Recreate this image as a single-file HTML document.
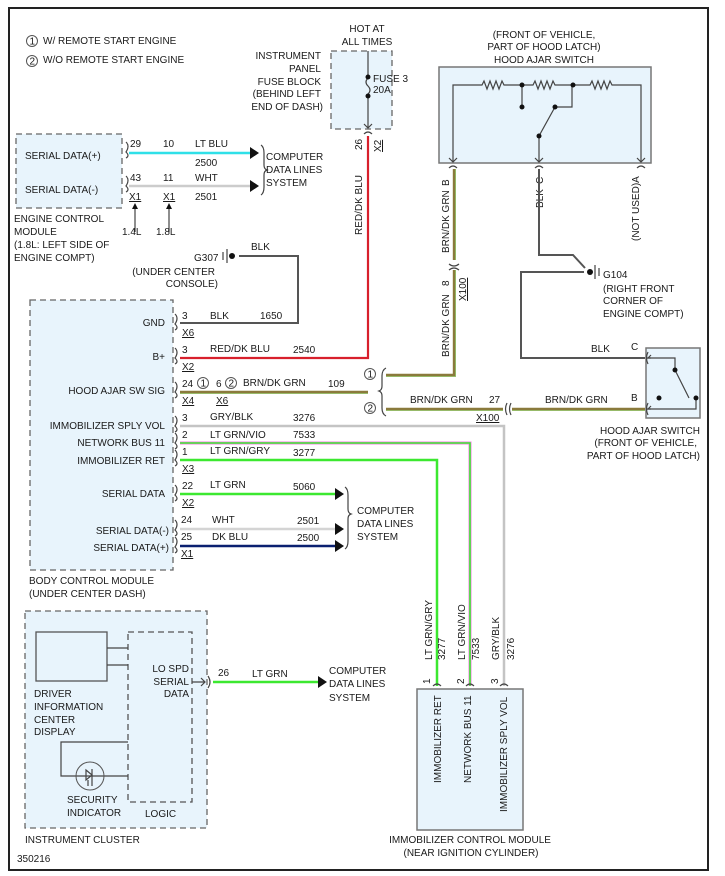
<!DOCTYPE html>
<html><head><meta charset="utf-8"><style>
html,body{margin:0;padding:0;background:#fff}
svg{display:block}
text{font-family:"Liberation Sans",sans-serif;font-size:10px;fill:#1a1a1a}
.dash{fill:#e8f4fc;stroke:#666;stroke-width:1.3;stroke-dasharray:6,4}
.box{fill:#e8f4fc;stroke:#777;stroke-width:1.5}
.ln{fill:none;stroke:#444;stroke-width:1.2}
</style></head><body>
<svg width="725" height="876" viewBox="0 0 725 876" xmlns="http://www.w3.org/2000/svg">
<rect x="9" y="8" width="699" height="862" fill="#fff" stroke="#222" stroke-width="2"/>

<!-- legend -->
<circle cx="32" cy="41" r="5.5" fill="none" stroke="#555"/><text x="29.5" y="44.5" font-size="8">1</text>
<text x="43" y="44">W/ REMOTE START ENGINE</text>
<circle cx="32" cy="61" r="5.5" fill="none" stroke="#555"/><text x="29.5" y="64.5" font-size="8">2</text>
<text x="43" y="63">W/O REMOTE START ENGINE</text>

<!-- fuse block -->
<text x="367" y="32" text-anchor="middle">HOT AT</text>
<text x="367" y="45" text-anchor="middle">ALL TIMES</text>
<g text-anchor="end"><text x="321" y="59">INSTRUMENT</text><text x="321" y="72">PANEL</text><text x="321" y="85">FUSE BLOCK</text><text x="321" y="97">(BEHIND LEFT</text><text x="323" y="110">END OF DASH)</text></g>
<rect x="331" y="51" width="61" height="78" class="dash"/>
<path d="M368 51V76 M368 96V128" class="ln"/>
<path d="M368 78 q-4 4 0 8 q4 4 0 8" class="ln"/>
<circle cx="368" cy="77" r="2.5" fill="#111"/><circle cx="368" cy="96" r="2.5" fill="#111"/>
<text x="373" y="82">FUSE 3</text><text x="373" y="93">20A</text>
<path d="M364 124l4 4 4-4 M364 134q4 -4 8 0" class="ln"/>
<text transform="translate(362,150) rotate(-90)">26</text>
<text transform="translate(381,152) rotate(-90)" text-decoration="underline">X2</text>
<text transform="translate(362,235) rotate(-90)">RED/DK BLU</text>
<path d="M368 136V358H180" fill="none" stroke="#d8202c" stroke-width="2.2"/>

<!-- ECM -->
<rect x="16" y="134" width="106" height="74" class="dash"/>
<text x="25" y="159">SERIAL DATA(+)</text><text x="25" y="193">SERIAL DATA(-)</text>
<path d="M126 142q4 4 0 10q4 4 0 6 M126 176q4 4 0 10q4 4 0 6" class="ln"/>
<path d="M129 153H250" stroke="#2fe0e8" stroke-width="2.5"/>
<path d="M129 186H250" stroke="#ccc" stroke-width="2.5"/>
<path d="M250 147l9 6-9 6z M250 180l9 6-9 6z" fill="#111"/>
<text x="130" y="147">29</text><text x="163" y="147">10</text><text x="195" y="147">LT BLU</text><text x="195" y="166">2500</text>
<text x="130" y="181">43</text><text x="163" y="181">11</text><text x="195" y="181">WHT</text><text x="195" y="200">2501</text>
<text x="129" y="200" text-decoration="underline">X1</text><text x="163" y="200" text-decoration="underline">X1</text>
<path d="M135 232V207 M169 232V207" class="ln"/><path d="M132 209l3-6 3 6z M166 209l3-6 3 6z" fill="#111"/>
<text x="122" y="235">1.4L</text><text x="156" y="235">1.8L</text>
<path d="M261 145q3 2 3 8v12q0 4 3 5q-3 1-3 5v12q0 6-3 8" class="ln"/>
<text x="266" y="160">COMPUTER</text><text x="266" y="173">DATA LINES</text><text x="266" y="186">SYSTEM</text>
<text x="14" y="222">ENGINE CONTROL</text><text x="14" y="235">MODULE</text><text x="14" y="248">(1.8L: LEFT SIDE OF</text><text x="14" y="261">ENGINE COMPT)</text>

<!-- G307 -->
<text x="194" y="261">G307</text>
<path d="M223 252v8 M227 249v14" class="ln"/><circle cx="232" cy="256" r="3" fill="#111"/>
<text x="251" y="250">BLK</text>
<path d="M239 256H298V323H180" fill="none" stroke="#555" stroke-width="2"/>
<text x="215" y="275" text-anchor="end">(UNDER CENTER</text><text x="218" y="287" text-anchor="end">CONSOLE)</text>

<!-- BCM -->
<rect x="30" y="300" width="143" height="270" class="dash"/>
<g text-anchor="end"><text x="165" y="326">GND</text><text x="165" y="360">B+</text><text x="165" y="394">HOOD AJAR SW SIG</text><text x="165" y="429">IMMOBILIZER SPLY VOL</text><text x="165" y="446">NETWORK BUS 11</text><text x="165" y="464">IMMOBILIZER RET</text><text x="165" y="497">SERIAL DATA</text><text x="169" y="534">SERIAL DATA(-)</text><text x="169" y="551">SERIAL DATA(+)</text></g>
<path d="M175 314q4 4 0 10q4 4 0 6 M175 348q4 4 0 10q4 4 0 6 M175 382q4 4 0 10q4 4 0 6 M175 416q4 4 0 10q4 4 0 6 M175 433q4 4 0 10q4 4 0 6 M175 450q4 4 0 10q4 4 0 6 M175 485q4 4 0 10q4 4 0 6 M175 520q4 4 0 10q4 4 0 6 M175 537q4 4 0 10q4 4 0 6" class="ln"/>
<g>
<text x="182" y="319">3</text><text x="210" y="319">BLK</text><text x="260" y="319">1650</text><text x="182" y="336" text-decoration="underline">X6</text>
<text x="182" y="353">3</text><text x="210" y="352">RED/DK BLU</text><text x="293" y="353">2540</text><text x="182" y="370" text-decoration="underline">X2</text>
<text x="182" y="387">24</text><text x="216" y="387">6</text><text x="243" y="386">BRN/DK GRN</text><text x="328" y="387">109</text>
<circle cx="203" cy="383" r="5.5" fill="none" stroke="#555"/><text x="200.5" y="386.5" font-size="8">1</text>
<circle cx="231" cy="383" r="5.5" fill="none" stroke="#555"/><text x="228.5" y="386.5" font-size="8">2</text>
<text x="182" y="404" text-decoration="underline">X4</text><text x="216" y="404" text-decoration="underline">X6</text>
<text x="182" y="421">3</text><text x="210" y="420">GRY/BLK</text><text x="293" y="421">3276</text>
<text x="182" y="438">2</text><text x="210" y="438">LT GRN/VIO</text><text x="293" y="438">7533</text>
<text x="182" y="455">1</text><text x="210" y="454">LT GRN/GRY</text><text x="293" y="456">3277</text><text x="182" y="472" text-decoration="underline">X3</text>
<text x="182" y="489">22</text><text x="210" y="488">LT GRN</text><text x="293" y="490">5060</text><text x="182" y="506" text-decoration="underline">X2</text>
<text x="181" y="523">24</text><text x="212" y="523">WHT</text><text x="297" y="524">2501</text>
<text x="181" y="540">25</text><text x="212" y="540">DK BLU</text><text x="297" y="541">2500</text><text x="181" y="557" text-decoration="underline">X1</text>
</g>
<path d="M180 392H368" stroke="#8a7a3c" stroke-width="2.4"/><path d="M180 393.5H368" stroke="#7fae48" stroke-width="0.8"/>
<path d="M180 426H504V686" fill="none" stroke="#c4c4c4" stroke-width="2.5"/>
<path d="M180 443H470V686" fill="none" stroke="#f080e0" stroke-width="3"/>
<path d="M180 443H470V686" fill="none" stroke="#3ce830" stroke-width="1.6"/>
<path d="M180 460H437V686" fill="none" stroke="#3ce830" stroke-width="2.5"/>
<path d="M180 494H335" stroke="#3ce830" stroke-width="2.5"/>
<path d="M180 529H335" stroke="#d4d4d4" stroke-width="2.5"/>
<path d="M180 546H335" stroke="#0a2070" stroke-width="2.5"/>
<path d="M335 488l9 6-9 6z M335 523l9 6-9 6z M335 540l9 6-9 6z" fill="#111"/>
<path d="M345 487q3 2 3 8v14q0 4 3 5q-3 1-3 5v22q0 6-3 8" class="ln"/>
<text x="357" y="514">COMPUTER</text><text x="357" y="527">DATA LINES</text><text x="357" y="540">SYSTEM</text>
<text x="29" y="584">BODY CONTROL MODULE</text><text x="29" y="597">(UNDER CENTER DASH)</text>

<!-- brace & options -->
<path d="M386 368q-4 2-4 8v10q0 4-3 5q3 1 3 5v12q0 6 4 8" class="ln"/>
<circle cx="370" cy="374" r="5.5" fill="none" stroke="#555"/><text x="367.5" y="377.5" font-size="8">1</text>
<circle cx="370" cy="408" r="5.5" fill="none" stroke="#555"/><text x="367.5" y="411.5" font-size="8">2</text>
<path d="M386 375H454V270 M454 260V169" fill="none" stroke="#8a7a3c" stroke-width="2.4"/>
<path d="M386 376.5H455.5V270 M455.5 260V169" fill="none" stroke="#7fae48" stroke-width="0.8"/>
<path d="M386 409H503 M512 409H645" stroke="#8a7a3c" stroke-width="2.4"/><path d="M386 410.5H503 M512 410.5H645" stroke="#7fae48" stroke-width="0.8"/>
<path d="M507 403q-3 6 0 12 M511 403q-3 6 0 12" class="ln"/>
<text x="410" y="403">BRN/DK GRN</text><text x="489" y="403">27</text><text x="545" y="403">BRN/DK GRN</text><text x="476" y="421" text-decoration="underline">X100</text>
<path d="M449 264q5 4 10 0 M449 270q5 -4 10 0" class="ln"/>
<text transform="translate(449,186) rotate(-90)">B</text>
<text transform="translate(449,253) rotate(-90)">BRN/DK GRN</text>
<text transform="translate(449,286) rotate(-90)">8</text>
<text transform="translate(449,357) rotate(-90)">BRN/DK GRN</text>
<text transform="translate(466,301) rotate(-90)" text-decoration="underline">X100</text>

<!-- hood ajar switch top -->
<text x="544" y="38" text-anchor="middle">(FRONT OF VEHICLE,</text>
<text x="544" y="50" text-anchor="middle">PART OF HOOD LATCH)</text>
<text x="544" y="63" text-anchor="middle">HOOD AJAR SWITCH</text>
<rect x="439" y="67" width="212" height="96" class="box"/>
<path d="M453 162V85H482l2-4 3 8 3-8 3 8 3-8 3 8 3-8 2 4H533l2-4 3 8 3-8 3 8 3-8 3 8 3-8 2 4H590l2-4 3 8 3-8 3 8 3-8 3 8 3-8 2 4H641V162 M522 85V107 M572 85V107H555 M555 107L539 136V162" class="ln"/>
<circle cx="522" cy="85" r="2.5" fill="#111"/><circle cx="573" cy="85" r="2.5" fill="#111"/><circle cx="522" cy="107" r="2.5" fill="#111"/><circle cx="555" cy="107" r="2.5" fill="#111"/><circle cx="539" cy="136" r="2.5" fill="#111"/>
<path d="M449 158l4 4 4-4 M535 158l4 4 4-4 M637 158l4 4 4-4 M449 168q4-4 8 0 M535 168q4-4 8 0 M637 168q4-4 8 0" class="ln"/>
<text transform="translate(543,184) rotate(-90)">C</text>
<text transform="translate(543,208) rotate(-90)">BLK</text>
<text transform="translate(639,241) rotate(-90)">(NOT USED)A</text>
<path d="M539 169V255H573L585 268" fill="none" stroke="#555" stroke-width="2"/>
<circle cx="590" cy="272" r="3" fill="#111"/><path d="M595 265v14 M599 268v8" class="ln"/>
<path d="M584 272H521V358H645" fill="none" stroke="#555" stroke-width="2"/>
<text x="603" y="278">G104</text><text x="603" y="292">(RIGHT FRONT</text><text x="603" y="304">CORNER OF</text><text x="603" y="317">ENGINE COMPT)</text>
<text x="591" y="352">BLK</text><text x="631" y="350">C</text><text x="631" y="401">B</text>

<!-- hood switch 2 -->
<rect x="646" y="348" width="54" height="70" class="box"/>
<path d="M648 352q-3 6 0 12 M648 403q-3 6 0 12 M651 358h-3l3-3 M651 409h-3l3-3" class="ln"/>
<path d="M647 358H675V370L689 398 M647 409H696V398" class="ln"/>
<circle cx="675" cy="370" r="2.5" fill="#111"/><circle cx="696" cy="398" r="2.5" fill="#111"/><circle cx="659" cy="398" r="2.5" fill="#111"/>
<g text-anchor="end"><text x="700" y="434">HOOD AJAR SWITCH</text><text x="697" y="446">(FRONT OF VEHICLE,</text><text x="700" y="459">PART OF HOOD LATCH)</text></g>

<!-- immobilizer -->
<text transform="translate(432,660) rotate(-90)">LT GRN/GRY</text><text transform="translate(445,660) rotate(-90)">3277</text>
<text transform="translate(465,660) rotate(-90)">LT GRN/VIO</text><text transform="translate(479,660) rotate(-90)">7533</text>
<text transform="translate(499,660) rotate(-90)">GRY/BLK</text><text transform="translate(514,660) rotate(-90)">3276</text>
<text transform="translate(430,684) rotate(-90)">1</text><text transform="translate(464,684) rotate(-90)">2</text><text transform="translate(498,684) rotate(-90)">3</text>
<path d="M433 686q4-4 8 0 M466 686q4-4 8 0 M500 686q4-4 8 0" class="ln"/>
<rect x="417" y="689" width="106" height="141" class="box"/>
<text transform="translate(441,783) rotate(-90)">IMMOBILIZER RET</text>
<text transform="translate(471,783) rotate(-90)">NETWORK BUS 11</text>
<text transform="translate(507,812) rotate(-90)">IMMOBILIZER SPLY VOL</text>
<text x="470" y="843" text-anchor="middle">IMMOBILIZER CONTROL MODULE</text>
<text x="471" y="856" text-anchor="middle">(NEAR IGNITION CYLINDER)</text>

<!-- instrument cluster -->
<rect x="25" y="611" width="182" height="217" class="dash"/>
<rect x="36" y="632" width="71" height="49" fill="#e8f4fc" stroke="#555" stroke-width="1.3"/>
<rect x="128" y="632" width="64" height="170" fill="none" stroke="#555" stroke-width="1.3" stroke-dasharray="6,4"/>
<path d="M107 648H128 M107 665H128 M128 742H61V776H128" class="ln"/>
<circle cx="90" cy="776" r="14" fill="none" stroke="#555"/>
<path d="M86 770l6 5-6 5z M92 769v12 M88 780v6 M92 780v6" class="ln"/>
<text x="34" y="697">DRIVER</text><text x="34" y="710">INFORMATION</text><text x="34" y="723">CENTER</text><text x="34" y="735">DISPLAY</text>
<text x="67" y="803">SECURITY</text><text x="67" y="816">INDICATOR</text><text x="145" y="817">LOGIC</text>
<g text-anchor="end"><text x="189" y="672">LO SPD</text><text x="189" y="685">SERIAL</text><text x="189" y="697">DATA</text></g>
<path d="M192 682H205 M201 678l4 4-4 4 M208 676q4 6 0 12" class="ln"/>
<path d="M213 682H318" stroke="#3ce830" stroke-width="2.5"/><path d="M318 676l9 6-9 6z" fill="#111"/>
<text x="218" y="676">26</text><text x="252" y="677">LT GRN</text>
<text x="329" y="674">COMPUTER</text><text x="329" y="687">DATA LINES</text><text x="329" y="701">SYSTEM</text>
<text x="25" y="843">INSTRUMENT CLUSTER</text>
<text x="17" y="862">350216</text>
</svg>
</body></html>
